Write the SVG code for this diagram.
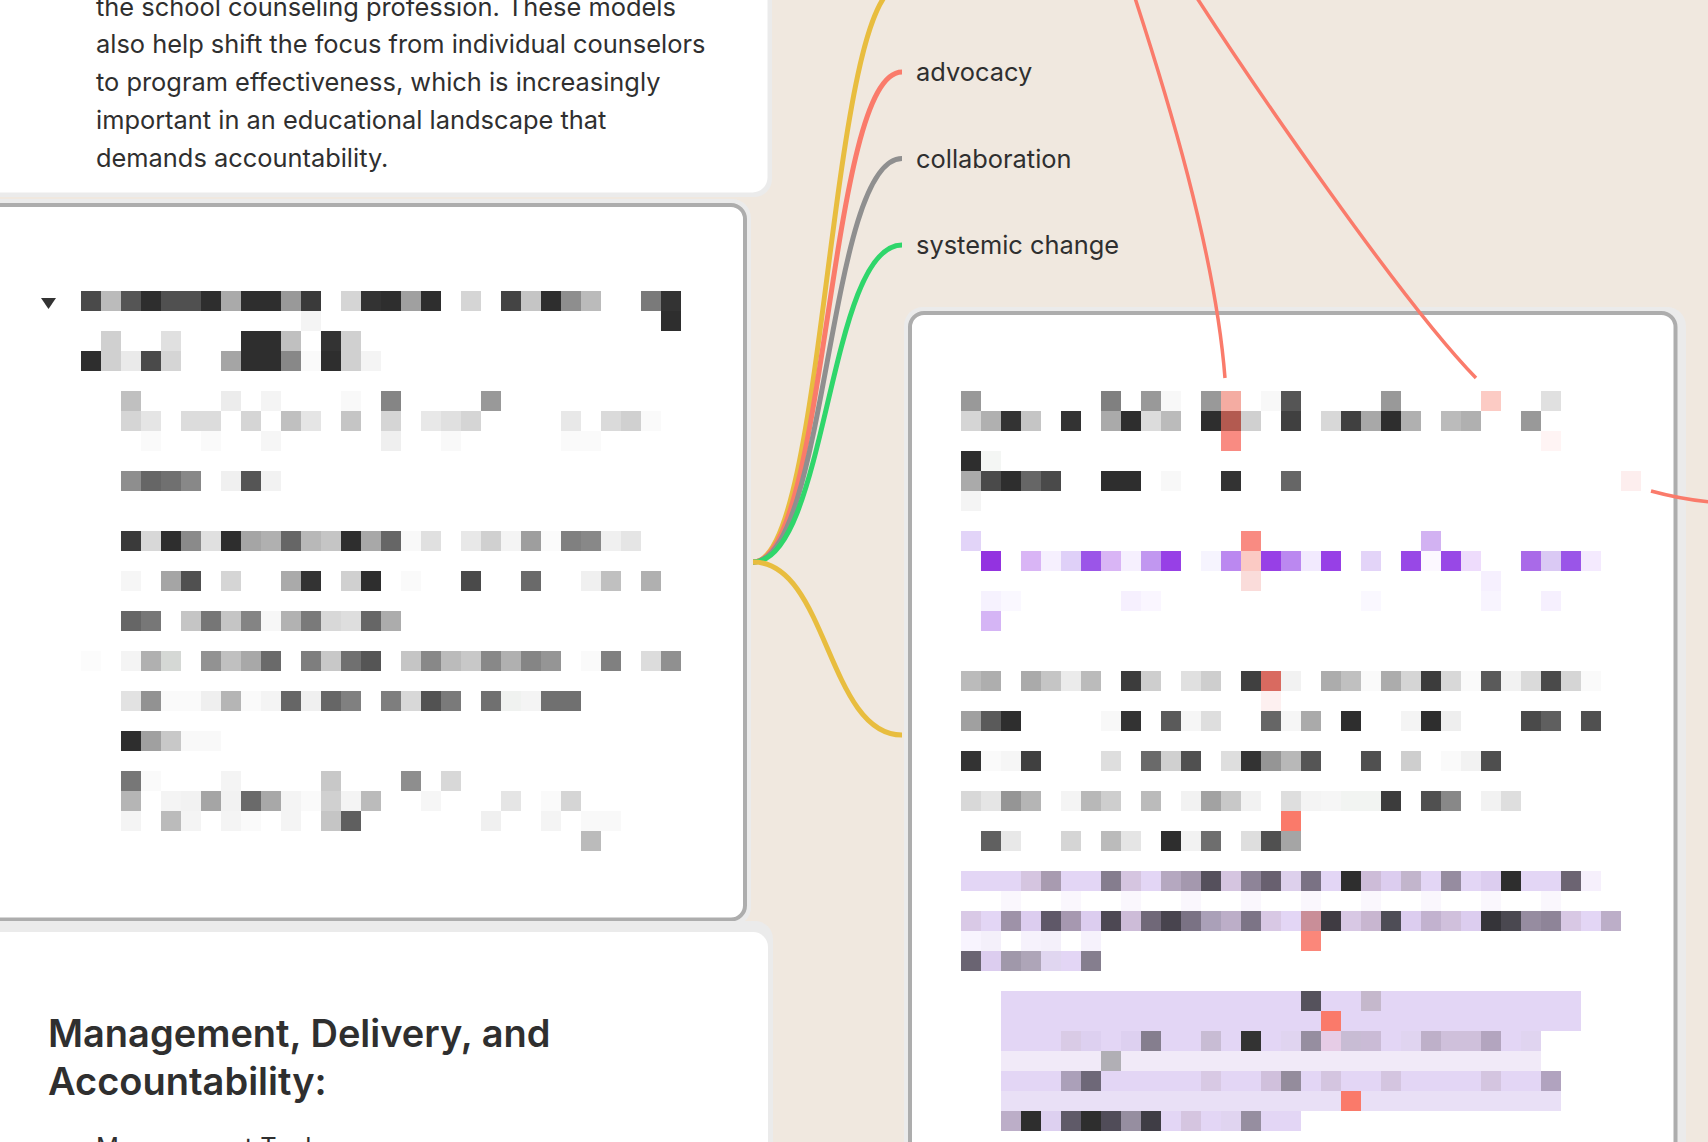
<svg xmlns="http://www.w3.org/2000/svg" width="1708" height="1142" viewBox="0 0 1708 1142">
<style>
.t{font-family:Inter,"Noto Sans","Liberation Sans",sans-serif;fill:#2f2f2f}
.p{font-size:25.4px}
.h{font-size:38px;font-weight:600}
.halo{fill:#ebebeb}
.card{fill:#fff}
.sel{fill:#fff;stroke:#adadad;stroke-width:4}
.c{fill:none;stroke-width:5;stroke-linecap:butt}
.s{fill:none;stroke:#fa7b6b;stroke-width:3.5}
.mz rect{width:20px;height:20px}
</style>
<rect width="1708" height="1142" fill="#f0e8df"/>

<g id="card-top">
<rect class="halo" x="-30" y="-30" width="802" height="227" rx="18"/>
<rect class="card" x="-30" y="-30" width="797.5" height="222.5" rx="15"/>
<text class="t p" x="96" y="15.5">the school counseling profession. These models</text>
<text class="t p" x="96" y="53.3">also help shift the focus from individual counselors</text>
<text class="t p" x="96" y="91.1">to program effectiveness, which is increasingly</text>
<text class="t p" x="96" y="128.9">important in an educational landscape that</text>
<text class="t p" x="96" y="166.7">demands accountability.</text>
</g>

<g id="card-selected">
<rect class="halo" x="-30" y="199" width="781" height="727" rx="19"/>
<rect class="sel" x="-30" y="205" width="775" height="714.5" rx="14"/>
<polygon points="41,298 56,298 48.5,309" fill="#333"/>
<g class="mz">
<rect x="81" y="291" fill="#4a4a4a"/><rect x="101" y="291" fill="#bbb"/><rect x="121" y="291" fill="#555"/><rect x="141" y="291" fill="#2e2e2e"/><rect x="161" y="291" fill="#505050"/><rect x="181" y="291" fill="#505050"/><rect x="201" y="291" fill="#2e2e2e"/><rect x="221" y="291" fill="#aaa"/><rect x="241" y="291" fill="#2e2e2e"/><rect x="261" y="291" fill="#2e2e2e"/><rect x="281" y="291" fill="#999"/><rect x="301" y="291" fill="#3a3a3a"/><rect x="341" y="291" fill="#d5d5d5"/><rect x="361" y="291" fill="#333"/><rect x="381" y="291" fill="#2e2e2e"/><rect x="401" y="291" fill="#a0a0a0"/><rect x="421" y="291" fill="#2e2e2e"/><rect x="461" y="291" fill="#d5d5d5"/><rect x="501" y="291" fill="#444"/><rect x="521" y="291" fill="#c5c5c5"/><rect x="541" y="291" fill="#2e2e2e"/><rect x="561" y="291" fill="#8e8e8e"/><rect x="581" y="291" fill="#bbb"/><rect x="641" y="291" fill="#7a7a7a"/><rect x="661" y="291" fill="#333"/>
<rect x="301" y="311" fill="#f4f4f4"/><rect x="661" y="311" fill="#2e2e2e"/>
<rect x="101" y="331" fill="#d0d0d0"/><rect x="161" y="331" fill="#e0e0e0"/><rect x="241" y="331" fill="#2e2e2e"/><rect x="261" y="331" fill="#2e2e2e"/><rect x="281" y="331" fill="#c0c0c0"/><rect x="321" y="331" fill="#333"/><rect x="341" y="331" fill="#d0d0d0"/>
<rect x="81" y="351" fill="#2e2e2e"/><rect x="101" y="351" fill="#d0d0d0"/><rect x="121" y="351" fill="#eaeaea"/><rect x="141" y="351" fill="#4a4a4a"/><rect x="161" y="351" fill="#d5d5d5"/><rect x="221" y="351" fill="#a5a5a5"/><rect x="241" y="351" fill="#2e2e2e"/><rect x="261" y="351" fill="#2e2e2e"/><rect x="281" y="351" fill="#888"/><rect x="301" y="351" fill="#fafafa"/><rect x="321" y="351" fill="#2e2e2e"/><rect x="341" y="351" fill="#d0d0d0"/><rect x="361" y="351" fill="#f4f4f4"/>
<rect x="121" y="391" fill="#c0c0c0"/><rect x="221" y="391" fill="#ececec"/><rect x="261" y="391" fill="#f4f4f4"/><rect x="341" y="391" fill="#f9f9f9"/><rect x="381" y="391" fill="#858585"/><rect x="481" y="391" fill="#999"/>
<rect x="121" y="411" fill="#d5d5d5"/><rect x="141" y="411" fill="#e5e5e5"/><rect x="181" y="411" fill="#dcdcdc"/><rect x="201" y="411" fill="#dcdcdc"/><rect x="241" y="411" fill="#d5d5d5"/><rect x="281" y="411" fill="#c0c0c0"/><rect x="301" y="411" fill="#e5e5e5"/><rect x="341" y="411" fill="#c5c5c5"/><rect x="381" y="411" fill="#d5d5d5"/><rect x="421" y="411" fill="#e8e8e8"/><rect x="441" y="411" fill="#e0e0e0"/><rect x="461" y="411" fill="#d5d5d5"/><rect x="561" y="411" fill="#e8e8e8"/><rect x="601" y="411" fill="#dadada"/><rect x="621" y="411" fill="#d0d0d0"/><rect x="641" y="411" fill="#fafafa"/>
<rect x="141" y="431" fill="#fafafa"/><rect x="201" y="431" fill="#fafafa"/><rect x="261" y="431" fill="#f6f6f6"/><rect x="381" y="431" fill="#efefef"/><rect x="441" y="431" fill="#f9f9f9"/><rect x="561" y="431" fill="#fafafa"/><rect x="581" y="431" fill="#fafafa"/>
<rect x="121" y="471" fill="#8e8e8e"/><rect x="141" y="471" fill="#666"/><rect x="161" y="471" fill="#707070"/><rect x="181" y="471" fill="#888"/><rect x="221" y="471" fill="#f0f0f0"/><rect x="241" y="471" fill="#555"/><rect x="261" y="471" fill="#f2f2f2"/>
<rect x="121" y="531" fill="#3a3a3a"/><rect x="141" y="531" fill="#d8d8d8"/><rect x="161" y="531" fill="#2e2e2e"/><rect x="181" y="531" fill="#8a8a8a"/><rect x="201" y="531" fill="#e0e0e0"/><rect x="221" y="531" fill="#2e2e2e"/><rect x="241" y="531" fill="#a5a5a5"/><rect x="261" y="531" fill="#b0b0b0"/><rect x="281" y="531" fill="#666"/><rect x="301" y="531" fill="#b8b8b8"/><rect x="321" y="531" fill="#c5c5c5"/><rect x="341" y="531" fill="#2e2e2e"/><rect x="361" y="531" fill="#a8a8a8"/><rect x="381" y="531" fill="#666"/><rect x="401" y="531" fill="#f9f9f9"/><rect x="421" y="531" fill="#e0e0e0"/><rect x="461" y="531" fill="#e8e8e8"/><rect x="481" y="531" fill="#d0d0d0"/><rect x="501" y="531" fill="#f4f4f4"/><rect x="521" y="531" fill="#9e9e9e"/><rect x="541" y="531" fill="#fbfbfb"/><rect x="561" y="531" fill="#808080"/><rect x="581" y="531" fill="#888"/><rect x="601" y="531" fill="#f0f0f0"/><rect x="621" y="531" fill="#e5e5e5"/>
<rect x="121" y="571" fill="#f6f6f6"/><rect x="161" y="571" fill="#a5a5a5"/><rect x="181" y="571" fill="#505050"/><rect x="221" y="571" fill="#d5d5d5"/><rect x="281" y="571" fill="#aaa"/><rect x="301" y="571" fill="#333"/><rect x="341" y="571" fill="#d0d0d0"/><rect x="361" y="571" fill="#2e2e2e"/><rect x="401" y="571" fill="#fafafa"/><rect x="461" y="571" fill="#4a4a4a"/><rect x="521" y="571" fill="#6a6a6a"/><rect x="581" y="571" fill="#f0f0f0"/><rect x="601" y="571" fill="#c0c0c0"/><rect x="641" y="571" fill="#b0b0b0"/>
<rect x="121" y="611" fill="#666"/><rect x="141" y="611" fill="#777"/><rect x="181" y="611" fill="#c5c5c5"/><rect x="201" y="611" fill="#767676"/><rect x="221" y="611" fill="#c5c5c5"/><rect x="241" y="611" fill="#848484"/><rect x="261" y="611" fill="#f7f7f7"/><rect x="281" y="611" fill="#b2b2b2"/><rect x="301" y="611" fill="#7a7a7a"/><rect x="321" y="611" fill="#d8d8d8"/><rect x="341" y="611" fill="#dedede"/><rect x="361" y="611" fill="#666"/><rect x="381" y="611" fill="#acacac"/>
<rect x="81" y="651" fill="#fcfcfc"/><rect x="121" y="651" fill="#f4f4f4"/><rect x="141" y="651" fill="#b0b0b0"/><rect x="161" y="651" fill="#d5d8d5"/><rect x="201" y="651" fill="#929292"/><rect x="221" y="651" fill="#c0c0c0"/><rect x="241" y="651" fill="#a8a8a8"/><rect x="261" y="651" fill="#6a6a6a"/><rect x="301" y="651" fill="#7e7e7e"/><rect x="321" y="651" fill="#c8c8c8"/><rect x="341" y="651" fill="#707070"/><rect x="361" y="651" fill="#555"/><rect x="401" y="651" fill="#c5c5c5"/><rect x="421" y="651" fill="#888"/><rect x="441" y="651" fill="#bbb"/><rect x="461" y="651" fill="#c8c8c8"/><rect x="481" y="651" fill="#888"/><rect x="501" y="651" fill="#b0b0b0"/><rect x="521" y="651" fill="#858585"/><rect x="541" y="651" fill="#959595"/><rect x="581" y="651" fill="#fafafa"/><rect x="601" y="651" fill="#808080"/><rect x="641" y="651" fill="#dcdcdc"/><rect x="661" y="651" fill="#909090"/>
<rect x="121" y="691" fill="#e2e2e2"/><rect x="141" y="691" fill="#929292"/><rect x="161" y="691" fill="#fafafa"/><rect x="181" y="691" fill="#fafafa"/><rect x="201" y="691" fill="#efefef"/><rect x="221" y="691" fill="#b5b5b5"/><rect x="241" y="691" fill="#fafafa"/><rect x="261" y="691" fill="#f4f4f4"/><rect x="281" y="691" fill="#666"/><rect x="301" y="691" fill="#f0f0f0"/><rect x="321" y="691" fill="#666"/><rect x="341" y="691" fill="#808080"/><rect x="381" y="691" fill="#7e7e7e"/><rect x="401" y="691" fill="#d8d8d8"/><rect x="421" y="691" fill="#525252"/><rect x="441" y="691" fill="#7a7a7a"/><rect x="481" y="691" fill="#707070"/><rect x="501" y="691" fill="#f0f2f0"/><rect x="521" y="691" fill="#f4f4f4"/><rect x="541" y="691" fill="#707070"/><rect x="561" y="691" fill="#707070"/>
<rect x="121" y="731" fill="#2e2e2e"/><rect x="141" y="731" fill="#a0a0a0"/><rect x="161" y="731" fill="#c8c8c8"/><rect x="181" y="731" fill="#f9f9f9"/><rect x="201" y="731" fill="#f9f9f9"/>
<rect x="121" y="771" fill="#777"/><rect x="141" y="771" fill="#fafafa"/><rect x="221" y="771" fill="#f4f4f4"/><rect x="321" y="771" fill="#c8c8c8"/><rect x="401" y="771" fill="#8e8e8e"/><rect x="441" y="771" fill="#d8d8d8"/>
<rect x="121" y="791" fill="#b5b5b5"/><rect x="161" y="791" fill="#f4f4f4"/><rect x="181" y="791" fill="#f2f2f2"/><rect x="201" y="791" fill="#a5a5a5"/><rect x="221" y="791" fill="#f2f2f2"/><rect x="241" y="791" fill="#6a6a6a"/><rect x="261" y="791" fill="#a8a8a8"/><rect x="281" y="791" fill="#f4f4f4"/><rect x="301" y="791" fill="#fafafa"/><rect x="321" y="791" fill="#d0d0d0"/><rect x="341" y="791" fill="#f4f4f4"/><rect x="361" y="791" fill="#bbb"/><rect x="421" y="791" fill="#f6f6f6"/><rect x="501" y="791" fill="#e5e5e5"/><rect x="541" y="791" fill="#fafafa"/><rect x="561" y="791" fill="#d5d5d5"/>
<rect x="121" y="811" fill="#f4f4f4"/><rect x="161" y="811" fill="#bbb"/><rect x="181" y="811" fill="#f4f4f4"/><rect x="221" y="811" fill="#f4f4f4"/><rect x="241" y="811" fill="#fafafa"/><rect x="281" y="811" fill="#f4f4f4"/><rect x="321" y="811" fill="#c5c5c5"/><rect x="341" y="811" fill="#5f5f5f"/><rect x="481" y="811" fill="#f0f0f0"/><rect x="541" y="811" fill="#f4f4f4"/><rect x="581" y="811" fill="#f9f9f9"/><rect x="601" y="811" fill="#f9f9f9"/>
<rect x="581" y="831" fill="#bbb"/>
</g>
</g>

<g id="card-bottom">
<rect class="halo" x="-30" y="921" width="803" height="300" rx="18"/>
<rect class="card" x="-30" y="932" width="798" height="300" rx="15"/>
<text class="t h" x="48" y="1047">Management, Delivery, and</text>
<text class="t h" x="48" y="1095">Accountability:</text>
<text class="t p" x="62" y="1156">•</text>
<text class="t p" x="96" y="1156">Management Tools</text>
</g>

<g id="card-right">
<rect class="halo" x="904" y="307" width="782" height="900" rx="19"/>
<rect class="sel" x="910" y="313" width="765.5" height="900" rx="14"/>
<g id="bands">
<rect x="961" y="871" width="640" height="20" fill="#e3d6f5"/>
<rect x="961" y="911" width="660" height="20" fill="#e3d6f5"/>
<rect x="1001" y="991" width="580" height="20" fill="#e3d6f5"/>
<rect x="1001" y="1011" width="580" height="20" fill="#e3d6f5"/>
<rect x="1001" y="1031" width="540" height="20" fill="#e3d6f5"/>
<rect x="1001" y="1051" width="540" height="20" fill="#f1eaf8"/>
<rect x="1001" y="1071" width="540" height="20" fill="#e3d6f5"/>
<rect x="1001" y="1091" width="560" height="20" fill="#e9e0f6"/>
<rect x="1001" y="1111" width="300" height="20" fill="#e3d6f5"/>
</g>
<g class="mz">
<rect x="961" y="391" fill="#999"/><rect x="1101" y="391" fill="#808080"/><rect x="1141" y="391" fill="#999"/><rect x="1161" y="391" fill="#f8f8f8"/><rect x="1201" y="391" fill="#999"/><rect x="1221" y="391" fill="#f4aca2"/><rect x="1261" y="391" fill="#f8f8f8"/><rect x="1281" y="391" fill="#555"/><rect x="1381" y="391" fill="#999"/><rect x="1481" y="391" fill="#fccbc4"/><rect x="1541" y="391" fill="#e0e0e0"/>
<rect x="961" y="411" fill="#d5d5d5"/><rect x="981" y="411" fill="#b0b0b0"/><rect x="1001" y="411" fill="#333"/><rect x="1021" y="411" fill="#c5c5c5"/><rect x="1061" y="411" fill="#333"/><rect x="1101" y="411" fill="#aaa"/><rect x="1121" y="411" fill="#2e2e2e"/><rect x="1141" y="411" fill="#dcdcdc"/><rect x="1161" y="411" fill="#bbb"/><rect x="1201" y="411" fill="#2e2e2e"/><rect x="1221" y="411" fill="#b35a50"/><rect x="1241" y="411" fill="#d0d0d0"/><rect x="1281" y="411" fill="#404040"/><rect x="1321" y="411" fill="#d8d8d8"/><rect x="1341" y="411" fill="#404040"/><rect x="1361" y="411" fill="#a8a8a8"/><rect x="1381" y="411" fill="#2e2e2e"/><rect x="1401" y="411" fill="#b0b0b0"/><rect x="1441" y="411" fill="#bbb"/><rect x="1461" y="411" fill="#b0b0b0"/><rect x="1521" y="411" fill="#999"/>
<rect x="1221" y="431" fill="#f98b82"/><rect x="1541" y="431" fill="#fff4f4"/>
<rect x="961" y="451" fill="#2e2e2e"/><rect x="981" y="451" fill="#f4f6f4"/>
<rect x="961" y="471" fill="#aaa"/><rect x="981" y="471" fill="#4a4a4a"/><rect x="1001" y="471" fill="#2e2e2e"/><rect x="1021" y="471" fill="#666"/><rect x="1041" y="471" fill="#4a4a4a"/><rect x="1101" y="471" fill="#2e2e2e"/><rect x="1121" y="471" fill="#2e2e2e"/><rect x="1161" y="471" fill="#f8f8f8"/><rect x="1221" y="471" fill="#333"/><rect x="1281" y="471" fill="#666"/><rect x="1621" y="471" fill="#fdeeee"/>
<rect x="961" y="491" fill="#f4f4f4"/>
<rect x="961" y="531" fill="#e2d4f8"/><rect x="1241" y="531" fill="#f98b82"/><rect x="1421" y="531" fill="#d2b2f2"/>
<rect x="981" y="551" fill="#9333e0"/><rect x="1021" y="551" fill="#d9b5f5"/><rect x="1041" y="551" fill="#f6f0fe"/><rect x="1061" y="551" fill="#dfd0f8"/><rect x="1081" y="551" fill="#9b55e8"/><rect x="1101" y="551" fill="#d9b5f5"/><rect x="1121" y="551" fill="#f6f0fe"/><rect x="1141" y="551" fill="#c197f0"/><rect x="1161" y="551" fill="#9740e6"/><rect x="1201" y="551" fill="#f6f4fe"/><rect x="1221" y="551" fill="#bb88f0"/><rect x="1241" y="551" fill="#fbcac4"/><rect x="1261" y="551" fill="#9740e6"/><rect x="1281" y="551" fill="#bb88f0"/><rect x="1301" y="551" fill="#f2eafe"/><rect x="1321" y="551" fill="#9740e6"/><rect x="1361" y="551" fill="#e3d4f8"/><rect x="1401" y="551" fill="#9848e6"/><rect x="1421" y="551" fill="#fcf8ff"/><rect x="1441" y="551" fill="#9848e6"/><rect x="1461" y="551" fill="#eedcfc"/><rect x="1521" y="551" fill="#a96ae8"/><rect x="1541" y="551" fill="#dac9f4"/><rect x="1561" y="551" fill="#9a55e8"/><rect x="1581" y="551" fill="#f4eafe"/>
<rect x="1241" y="571" fill="#fadcda"/><rect x="1481" y="571" fill="#f6f0fe"/>
<rect x="981" y="591" fill="#f6f2fe"/><rect x="1001" y="591" fill="#faf8ff"/><rect x="1121" y="591" fill="#f6f0fe"/><rect x="1141" y="591" fill="#faf6ff"/><rect x="1361" y="591" fill="#faf8ff"/><rect x="1481" y="591" fill="#f8f4fe"/><rect x="1541" y="591" fill="#f6f0fe"/>
<rect x="981" y="611" fill="#d5b5f5"/>
<rect x="961" y="671" fill="#bbb"/><rect x="981" y="671" fill="#aeaeae"/><rect x="1021" y="671" fill="#aaa"/><rect x="1041" y="671" fill="#c5c5c5"/><rect x="1061" y="671" fill="#ebebeb"/><rect x="1081" y="671" fill="#bbb"/><rect x="1121" y="671" fill="#3c3c3c"/><rect x="1141" y="671" fill="#cecece"/><rect x="1181" y="671" fill="#e0e0e0"/><rect x="1201" y="671" fill="#cecece"/><rect x="1241" y="671" fill="#404040"/><rect x="1261" y="671" fill="#d96a60"/><rect x="1281" y="671" fill="#f2f2f2"/><rect x="1321" y="671" fill="#acacac"/><rect x="1341" y="671" fill="#c0c0c0"/><rect x="1361" y="671" fill="#fafafa"/><rect x="1381" y="671" fill="#acacac"/><rect x="1401" y="671" fill="#d5d5d5"/><rect x="1421" y="671" fill="#3c3c3c"/><rect x="1441" y="671" fill="#d8d8d8"/><rect x="1461" y="671" fill="#fafafa"/><rect x="1481" y="671" fill="#5a5a5a"/><rect x="1501" y="671" fill="#f2f2f2"/><rect x="1521" y="671" fill="#dadada"/><rect x="1541" y="671" fill="#4a4a4a"/><rect x="1561" y="671" fill="#d5d5d5"/><rect x="1581" y="671" fill="#fafafa"/>
<rect x="1261" y="691" fill="#fdf0f0"/>
<rect x="961" y="711" fill="#a0a0a0"/><rect x="981" y="711" fill="#5a5a5a"/><rect x="1001" y="711" fill="#2e2e2e"/><rect x="1101" y="711" fill="#f8f8f8"/><rect x="1121" y="711" fill="#333"/><rect x="1161" y="711" fill="#5a5a5a"/><rect x="1181" y="711" fill="#f6f6f6"/><rect x="1201" y="711" fill="#dedede"/><rect x="1261" y="711" fill="#666"/><rect x="1281" y="711" fill="#f6f6f6"/><rect x="1301" y="711" fill="#aaa"/><rect x="1341" y="711" fill="#2e2e2e"/><rect x="1401" y="711" fill="#f4f4f4"/><rect x="1421" y="711" fill="#2e2e2e"/><rect x="1441" y="711" fill="#eee"/><rect x="1521" y="711" fill="#4a4a4a"/><rect x="1541" y="711" fill="#5f5f5f"/><rect x="1581" y="711" fill="#505050"/>
<rect x="961" y="751" fill="#333"/><rect x="981" y="751" fill="#fafafa"/><rect x="1001" y="751" fill="#f6f6f6"/><rect x="1021" y="751" fill="#404040"/><rect x="1101" y="751" fill="#dedede"/><rect x="1141" y="751" fill="#6a6a6a"/><rect x="1161" y="751" fill="#d0d0d0"/><rect x="1181" y="751" fill="#505050"/><rect x="1221" y="751" fill="#dedede"/><rect x="1241" y="751" fill="#333"/><rect x="1261" y="751" fill="#959595"/><rect x="1281" y="751" fill="#b8b8b8"/><rect x="1301" y="751" fill="#555"/><rect x="1361" y="751" fill="#505050"/><rect x="1401" y="751" fill="#cecece"/><rect x="1441" y="751" fill="#fafafa"/><rect x="1461" y="751" fill="#f2f2f2"/><rect x="1481" y="751" fill="#4e4e4e"/>
<rect x="961" y="791" fill="#d8d8d8"/><rect x="981" y="791" fill="#e5e5e5"/><rect x="1001" y="791" fill="#959595"/><rect x="1021" y="791" fill="#b5b5b5"/><rect x="1061" y="791" fill="#f4f4f4"/><rect x="1081" y="791" fill="#b8b8b8"/><rect x="1101" y="791" fill="#cecece"/><rect x="1141" y="791" fill="#bbb"/><rect x="1181" y="791" fill="#f2f2f2"/><rect x="1201" y="791" fill="#a2a2a2"/><rect x="1221" y="791" fill="#c8c8c8"/><rect x="1241" y="791" fill="#f2f2f2"/><rect x="1281" y="791" fill="#dedede"/><rect x="1301" y="791" fill="#f4f4f4"/><rect x="1321" y="791" fill="#f6f6f6"/><rect x="1341" y="791" fill="#f2f4f2"/><rect x="1361" y="791" fill="#f2f4f2"/><rect x="1381" y="791" fill="#3c3c3c"/><rect x="1421" y="791" fill="#505050"/><rect x="1441" y="791" fill="#888"/><rect x="1481" y="791" fill="#f2f2f2"/><rect x="1501" y="791" fill="#dedede"/>
<rect x="1281" y="811" fill="#fa7a6a"/>
<rect x="981" y="831" fill="#606060"/><rect x="1001" y="831" fill="#e8e8e8"/><rect x="1061" y="831" fill="#d5d5d5"/><rect x="1101" y="831" fill="#bbb"/><rect x="1121" y="831" fill="#e5e5e5"/><rect x="1161" y="831" fill="#2e2e2e"/><rect x="1181" y="831" fill="#f2f2f2"/><rect x="1201" y="831" fill="#6e6e6e"/><rect x="1241" y="831" fill="#dedede"/><rect x="1261" y="831" fill="#505050"/><rect x="1281" y="831" fill="#a5a5a5"/>
<rect x="1021" y="871" fill="#d5c5e0"/><rect x="1041" y="871" fill="#a89bb0"/><rect x="1101" y="871" fill="#857d8e"/><rect x="1121" y="871" fill="#d5c5e0"/><rect x="1161" y="871" fill="#b5a8c0"/><rect x="1181" y="871" fill="#a498ae"/><rect x="1201" y="871" fill="#55505c"/><rect x="1221" y="871" fill="#d5c5e0"/><rect x="1241" y="871" fill="#8e8498"/><rect x="1261" y="871" fill="#68606f"/><rect x="1281" y="871" fill="#ddd0ec"/><rect x="1301" y="871" fill="#7a7284"/><rect x="1341" y="871" fill="#2e2e2e"/><rect x="1361" y="871" fill="#cdbcd8"/><rect x="1381" y="871" fill="#dccdef"/><rect x="1401" y="871" fill="#c2b5cc"/><rect x="1441" y="871" fill="#968ca0"/><rect x="1481" y="871" fill="#dccdef"/><rect x="1501" y="871" fill="#2e2e2e"/><rect x="1561" y="871" fill="#6c6472"/><rect x="1581" y="871" fill="#f6f0fc"/>
<rect x="1001" y="891" fill="#faf7fd"/><rect x="1061" y="891" fill="#faf7fd"/><rect x="1121" y="891" fill="#faf7fd"/><rect x="1181" y="891" fill="#faf7fd"/><rect x="1241" y="891" fill="#faf7fd"/><rect x="1301" y="891" fill="#faf7fd"/><rect x="1361" y="891" fill="#faf7fd"/><rect x="1421" y="891" fill="#faf7fd"/><rect x="1481" y="891" fill="#faf7fd"/><rect x="1541" y="891" fill="#faf7fd"/>
<rect x="961" y="911" fill="#d9c9e6"/><rect x="1001" y="911" fill="#9e92a8"/><rect x="1021" y="911" fill="#dccdef"/><rect x="1041" y="911" fill="#5f5868"/><rect x="1061" y="911" fill="#a698b0"/><rect x="1081" y="911" fill="#dccdef"/><rect x="1101" y="911" fill="#4d4853"/><rect x="1121" y="911" fill="#cdbcd8"/><rect x="1141" y="911" fill="#706878"/><rect x="1161" y="911" fill="#48444e"/><rect x="1181" y="911" fill="#7a7284"/><rect x="1201" y="911" fill="#aaa0b8"/><rect x="1221" y="911" fill="#bcaec8"/><rect x="1241" y="911" fill="#7c7486"/><rect x="1261" y="911" fill="#d8c8e4"/><rect x="1301" y="911" fill="#c98e98"/><rect x="1321" y="911" fill="#3f3b42"/><rect x="1341" y="911" fill="#d8c8e4"/><rect x="1361" y="911" fill="#c8b6d0"/><rect x="1381" y="911" fill="#4e4d56"/><rect x="1401" y="911" fill="#dccdef"/><rect x="1421" y="911" fill="#c2b2cf"/><rect x="1441" y="911" fill="#d0c0dc"/><rect x="1461" y="911" fill="#dccdef"/><rect x="1481" y="911" fill="#353439"/><rect x="1501" y="911" fill="#4a4850"/><rect x="1521" y="911" fill="#968ca0"/><rect x="1541" y="911" fill="#8e8498"/><rect x="1561" y="911" fill="#d8c8e4"/><rect x="1601" y="911" fill="#bcaec8"/>
<rect x="961" y="931" fill="#f8f4fe"/><rect x="981" y="931" fill="#f4f0fa"/><rect x="1021" y="931" fill="#f6f2fc"/><rect x="1041" y="931" fill="#f4f0fa"/><rect x="1081" y="931" fill="#f6f2fc"/><rect x="1301" y="931" fill="#fb877a"/>
<rect x="961" y="951" fill="#6a6472"/><rect x="981" y="951" fill="#dccdef"/><rect x="1001" y="951" fill="#a098aa"/><rect x="1021" y="951" fill="#aea5b8"/><rect x="1041" y="951" fill="#e0d6f0"/><rect x="1061" y="951" fill="#e3d6f5"/><rect x="1081" y="951" fill="#857e8e"/>
<rect x="1301" y="991" fill="#55525c"/><rect x="1361" y="991" fill="#c5b8cc"/>
<rect x="1321" y="1011" fill="#fa7a6a"/>
<rect x="1061" y="1031" fill="#d9cbe6"/><rect x="1081" y="1031" fill="#ddd0f0"/><rect x="1121" y="1031" fill="#ddd0f0"/><rect x="1141" y="1031" fill="#857e8e"/><rect x="1201" y="1031" fill="#c8bcd4"/><rect x="1241" y="1031" fill="#333"/><rect x="1281" y="1031" fill="#e0d4f0"/><rect x="1301" y="1031" fill="#968ea0"/><rect x="1321" y="1031" fill="#e6cce6"/><rect x="1341" y="1031" fill="#c8bcd4"/><rect x="1361" y="1031" fill="#cabbd6"/><rect x="1401" y="1031" fill="#e0d4f0"/><rect x="1421" y="1031" fill="#beb0c9"/><rect x="1441" y="1031" fill="#cfc0db"/><rect x="1461" y="1031" fill="#cfc0db"/><rect x="1481" y="1031" fill="#b3a5bf"/><rect x="1521" y="1031" fill="#e0d4f0"/>
<rect x="1101" y="1051" fill="#b1afb5"/>
<rect x="1061" y="1071" fill="#aba0b9"/><rect x="1081" y="1071" fill="#6e6878"/><rect x="1201" y="1071" fill="#d8c9e4"/><rect x="1261" y="1071" fill="#d0c0dc"/><rect x="1281" y="1071" fill="#948c9c"/><rect x="1321" y="1071" fill="#d4c5e0"/><rect x="1381" y="1071" fill="#d4c5e0"/><rect x="1481" y="1071" fill="#d4c5e0"/><rect x="1541" y="1071" fill="#b1a3bf"/>
<rect x="1341" y="1091" fill="#fa7a6a"/>
<rect x="1001" y="1111" fill="#bcaec8"/><rect x="1021" y="1111" fill="#2e2e2e"/><rect x="1041" y="1111" fill="#ddd0f0"/><rect x="1061" y="1111" fill="#5f5a68"/><rect x="1081" y="1111" fill="#2e2e2e"/><rect x="1101" y="1111" fill="#504c58"/><rect x="1121" y="1111" fill="#968ea0"/><rect x="1141" y="1111" fill="#3f3d45"/><rect x="1181" y="1111" fill="#d5c5e0"/><rect x="1221" y="1111" fill="#e0d4f0"/><rect x="1241" y="1111" fill="#968ea0"/>
</g>
</g>

<g id="label-advocacy"><text class="t p" x="916" y="81">advocacy</text></g>
<g id="label-collaboration"><text class="t p" x="916" y="167.5">collaboration</text></g>
<g id="label-systemic-change"><text class="t p" x="916" y="254">systemic change</text></g>

<g id="connectors">
<path class="c" stroke="#e8bd3f" d="M753 562 C827.5 562 827.5 -15 902 -15"/>
<path class="c" stroke="#fa7b6b" d="M753 562 C827.5 562 827.5 72 902 72"/>
<path class="c" stroke="#8f8f8f" d="M753 562 C827.5 562 827.5 158.5 902 158.5"/>
<path class="c" stroke="#2fd66b" d="M753 562 C827.5 562 827.5 245 902 245"/>
<path class="c" stroke="#e8bd3f" d="M753 562 C827.5 562 827.5 735 902 735"/>
<path class="s" d="M1135 -2 C1165 90 1215 250 1225 378"/>
<path class="s" d="M1197 -2 C1250 80 1400 300 1476 378"/>
<path class="s" d="M1651 491 Q1680 499 1710 502"/>
</g>
</svg>
